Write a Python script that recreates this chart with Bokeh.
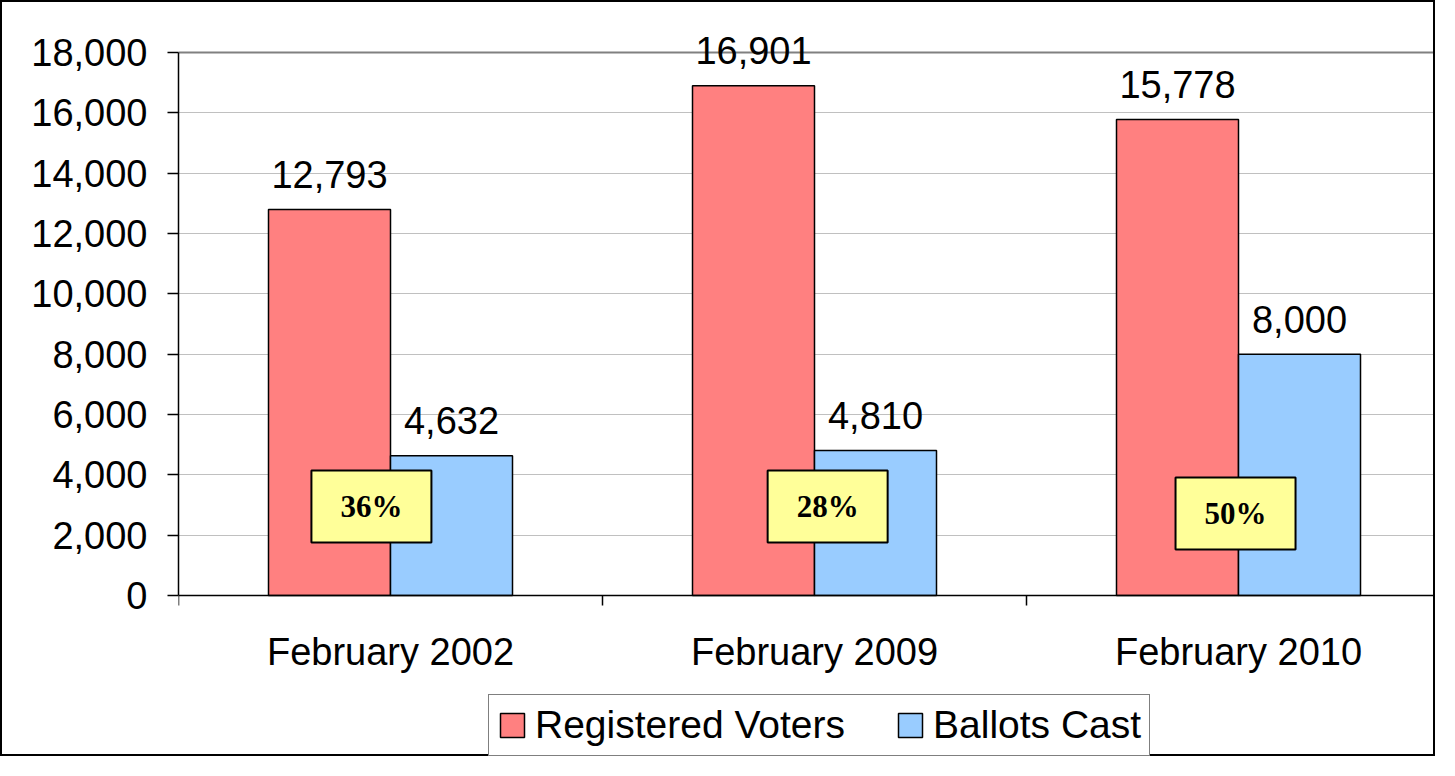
from bokeh.plotting import figure
from bokeh.models import Range1d, FixedTicker, NumeralTickFormatter, Legend, LegendItem, Span
from bokeh.core.properties import value
from bokeh.embed import file_html
from bokeh.resources import INLINE

# ---- data ----
categories = ["February 2002", "February 2009", "February 2010"]
registered = [12793, 16901, 15778]
ballots = [4632, 4810, 8000]
turnout_labels = ["36%", "28%", "50%"]
y_ticks = [0, 2000, 4000, 6000, 8000, 10000, 12000, 14000, 16000, 18000]

# ---- annotation placement (offsets from category centre) ----
box_dx = [-0.045, 0.031, -0.007]
box_y = [2950, 2950, 2718]

RED = "#FF8080"
BLUE = "#99CCFF"
YELLOW = "#FFFF99"
FONT = "Liberation Sans"

W, H = 1435, 756
left, top_px, value_px = 176, 50, 543
y_max = 18000
frame_w = W - left
frame_h = H
cat_px = 424.0
x_end = frame_w / cat_px
bw = 122.0 / cat_px
units_per_px = y_max / value_px
y_top = y_max + top_px * units_per_px
y_min = y_top - frame_h * units_per_px

p = figure(width=W, height=H, output_backend="svg", toolbar_location=None,
           x_range=Range1d(0, x_end), y_range=Range1d(y_min, y_top),
           min_border_left=left, min_border_top=0, min_border_right=0,
           min_border_bottom=0)
p.styles = {"border": "2px solid black"}
p.outline_line_color = None
p.background_fill_color = "white"
p.border_fill_color = "white"

centers = [i + 0.5 for i in range(len(categories))]
red_x = [c - bw / 2 for c in centers]
blue_x = [c + bw / 2 for c in centers]

r1 = p.vbar(x=red_x, top=registered, width=bw, bottom=0, fill_color=RED, line_color="black", line_width=1.5)
r2 = p.vbar(x=blue_x, top=ballots, width=bw, bottom=0, fill_color=BLUE, line_color="black", line_width=1.5)

# grid
p.xgrid.grid_line_color = None
p.ygrid.ticker = FixedTicker(ticks=y_ticks)
p.ygrid.grid_line_color = "#C0C0C0"
p.ygrid.grid_line_width = 1.2
p.ygrid.level = "underlay"
p.add_layout(Span(location=y_max, dimension="width", line_color="#808080", line_width=2, level="underlay"))

# y axis
p.yaxis.ticker = FixedTicker(ticks=y_ticks)
p.yaxis.bounds = (0, y_max)
p.yaxis.formatter = NumeralTickFormatter(format="0,0")
p.yaxis.axis_line_color = "black"
p.yaxis.axis_line_width = 1.5
p.yaxis.major_tick_line_color = "black"
p.yaxis.major_tick_line_width = 1.5
p.yaxis.major_tick_out = 11
p.yaxis.major_tick_in = 0
p.yaxis.minor_tick_line_color = None
p.yaxis.major_label_text_font = FONT
p.yaxis.major_label_text_font_size = "38px"
p.yaxis.major_label_text_color = "black"
p.yaxis.major_label_standoff = 20

# x axis (drawn at y = 0 inside the frame)
p.xaxis.fixed_location = 0
p.xaxis.ticker = FixedTicker(ticks=centers, minor_ticks=[0, 1, 2, 3])
p.xaxis.major_label_overrides = {c: lab for c, lab in zip(centers, categories)}
p.xaxis.axis_line_color = "black"
p.xaxis.axis_line_width = 1.5
p.xaxis.major_tick_line_color = None
p.xaxis.major_tick_out = 0
p.xaxis.major_tick_in = 0
p.xaxis.minor_tick_line_color = "black"
p.xaxis.minor_tick_line_width = 1.5
p.xaxis.minor_tick_out = 10
p.xaxis.minor_tick_in = 0
p.xaxis.major_label_text_font = FONT
p.xaxis.major_label_text_font_size = "38px"
p.xaxis.major_label_text_color = "black"
p.xaxis.major_label_standoff = 25

# value labels
p.text(x=red_x, y=registered, text=[f"{v:,}" for v in registered], text_align="center",
       text_baseline="alphabetic", y_offset=-35, text_font=value(FONT), text_font_size="38px", text_color="black")
p.text(x=blue_x, y=ballots, text=[f"{v:,}" for v in ballots], text_align="center",
       text_baseline="alphabetic", y_offset=-35, text_font=value(FONT), text_font_size="38px", text_color="black")

# turnout boxes
bx = [c + d for c, d in zip(centers, box_dx)]
p.rect(x=bx, y=box_y, width=120.0 / cat_px, height=72 * units_per_px, fill_color=YELLOW, line_color="black", line_width=2)
p.text(x=bx, y=box_y, text=turnout_labels, text_align="center", text_baseline="middle",
       text_font=value("Liberation Serif"), text_font_style="bold", text_font_size="31px", text_color="black")

legend = Legend(items=[LegendItem(label="Registered Voters", renderers=[r1]),
                       LegendItem(label="Ballots Cast", renderers=[r2])],
                orientation="horizontal", location=(310, 2))
legend.border_line_color = "black"
legend.border_line_width = 1.5
legend.background_fill_color = "white"
legend.background_fill_alpha = 1
legend.label_text_font = FONT
legend.label_text_font_size = "39px"
legend.label_text_color = "black"
legend.glyph_width = 30
legend.glyph_height = 30
legend.label_standoff = 8
legend.spacing = 50
legend.padding = 8
legend.margin = 0
p.add_layout(legend, "center")

open("out.html", "w").write(file_html(p, INLINE))
